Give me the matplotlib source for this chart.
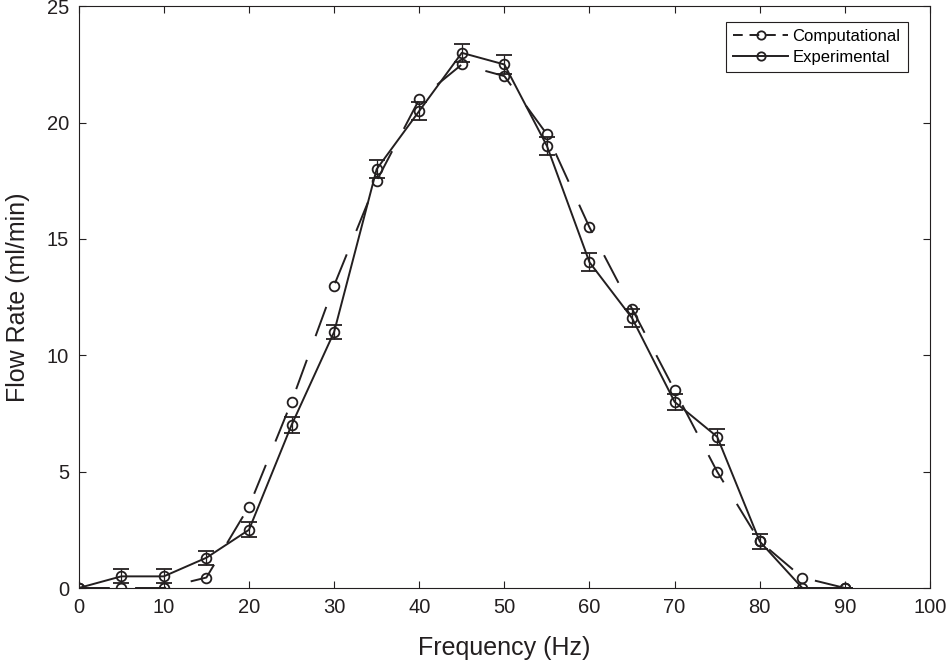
import matplotlib
matplotlib.use('Agg')
import matplotlib.pyplot as plt
from matplotlib.lines import Line2D

plt.rcParams['font.family'] = ['Liberation Sans', 'DejaVu Sans']

# частоты (Гц)
freq = [0, 5, 10, 15, 20, 25, 30, 35, 40, 45, 50, 55, 60, 65, 70, 75, 80, 85, 90]

# расчет
comp = [0, 0, 0, 0.45, 3.5, 8, 13, 17.5, 21, 22.5, 22, 19.5, 15.5, 12, 8.5, 5, 2, 0.45, 0]

# эксперимент + погрешность
exp_vals = [0, 0.5, 0.5, 1.3, 2.5, 7, 11, 18, 20.5, 23, 22.5, 19, 14, 11.6, 8, 6.5, 2, 0, 0]
exp_err = [0, 0.3, 0.3, 0.3, 0.32, 0.33, 0.3, 0.38, 0.4, 0.39, 0.39, 0.4, 0.39, 0.38, 0.35, 0.35, 0.34, 0, 0]

x_ticks = [0, 10, 20, 30, 40, 50, 60, 70, 80, 90, 100]
y_ticks = [0, 5, 10, 15, 20, 25]

col = '#231f20'

fig = plt.figure(figsize=(9.47, 6.67), dpi=100)
ax = fig.add_axes([78.7/947, (667-588)/667, (930-78.7)/947, (588-6.3)/667])

ax.plot(freq, comp, color=col, lw=1.4, linestyle=(0, (16, 13)),
        marker='o', ms=7, mfc='none', mec=col, mew=1.3)
ax.errorbar(freq, exp_vals, yerr=exp_err, color=col, lw=1.4,
            marker='o', ms=7, mfc='none', mec=col, mew=1.3,
            ecolor=col, elinewidth=0.9, capsize=5.5, capthick=0.9)

ax.set_xlim(0, 100)
ax.set_ylim(0, 25)
ax.set_xticks(x_ticks)
ax.set_yticks(y_ticks)
ax.tick_params(direction='in', length=5, width=0.8, top=True, right=True,
               labelsize=14.5, colors=col, pad=7)
for s in ax.spines.values():
    s.set_linewidth(0.8)
    s.set_color(col)

ax.set_xlabel('Frequency (Hz)', fontsize=18, color=col, labelpad=14)
ax.set_ylabel('Flow Rate (ml/min)', fontsize=18, color=col, labelpad=12)

# легенда без планок погрешностей
handles = [
    Line2D([], [], color=col, lw=1.4, linestyle=(0, (5, 3.5)), marker='o',
           ms=6, mfc='none', mec=col, mew=1.3),
    Line2D([], [], color=col, lw=1.4, marker='o', ms=6, mfc='none', mec=col, mew=1.3),
]
leg = ax.legend(handles, ['Computational', 'Experimental'], loc='upper right',
                bbox_to_anchor=(908/947, (667-21.5)/667), bbox_transform=fig.transFigure,
                fontsize=12, handlelength=3.3, fancybox=False, framealpha=1,
                edgecolor=col, borderaxespad=0, handletextpad=0.25,
                borderpad=0.45, labelspacing=0.35)
leg.get_frame().set_linewidth(0.8)

fig.savefig('out.png', dpi=100)
